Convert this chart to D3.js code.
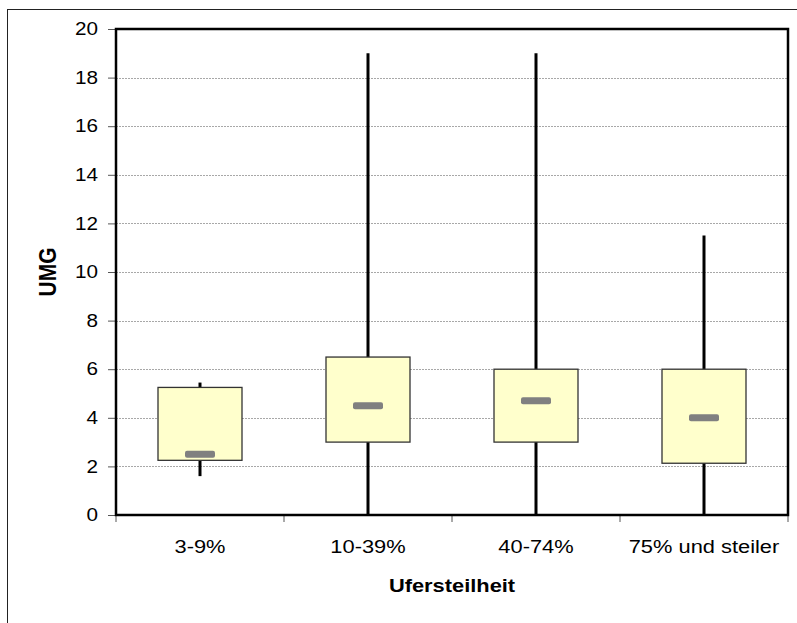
<!DOCTYPE html>
<html>
<head>
<meta charset="utf-8">
<script src="https://cdn.jsdelivr.net/npm/d3@7"></script>
<style>
  body { margin: 0; background: #fff; }
  text { font-family: Arial, "Liberation Sans", sans-serif; fill: #000; }
</style>
</head>
<body>
<div id="chart"></div>
<script>
// values
const categories = ["3-9%", "10-39%", "40-74%", "75% und steiler"];
const whiskerLow = [1.6, 0, 0, 0];
const q1 = [2.25, 3.0, 3.0, 2.13];
const medians = [2.5, 4.5, 4.7, 4.0];
const q3 = [5.25, 6.5, 6.0, 6.0];
const whiskerHigh = [5.45, 19, 19, 11.5];
const yTicks = [0, 2, 4, 6, 8, 10, 12, 14, 16, 18, 20];

const W = 797, H = 623;
const plot = { left: 116, top: 29, right: 788, bottom: 515 };
const stretch = 1.15; // the reference text is a bit wide

const svg = d3.select("#chart").append("svg")
    .attr("width", W)
    .attr("height", H);

// outer chart frame
svg.append("rect")
    .attr("x", 7.5).attr("y", 9.5)
    .attr("width", 800).attr("height", 630)
    .attr("fill", "#fff")
    .attr("stroke", "#222")
    .attr("stroke-width", 1);

const x = d3.scaleBand().domain(categories).range([plot.left, plot.right]).padding(0);
const y = d3.scaleLinear().domain([0, 20]).range([plot.bottom, plot.top]);

const data = categories.map((c, i) => ({
    cat: c, lo: whiskerLow[i], q1: q1[i], med: medians[i], q3: q3[i], hi: whiskerHigh[i]
}));

// gridlines
svg.append("g").selectAll("line")
    .data(yTicks.filter(t => t > 0 && t < 20))
    .join("line")
    .attr("x1", plot.left).attr("x2", plot.right)
    .attr("y1", d => Math.round(y(d)) + 0.5).attr("y2", d => Math.round(y(d)) + 0.5)
    .attr("stroke", "#a8a8a8")
    .attr("stroke-width", 1)
    .attr("stroke-dasharray", "2,1");

// y axis ticks + labels
const yAxis = svg.append("g")
    .attr("class", "y-axis")
    .attr("transform", `translate(${plot.left},0)`)
    .call(d3.axisLeft(y).tickValues(yTicks).tickSize(8).tickPadding(10).tickFormat(d3.format("d")));
yAxis.select(".domain").remove();
yAxis.selectAll(".tick line").attr("stroke", "#555");
yAxis.selectAll(".tick text")
    .attr("font-size", 18)
    .attr("font-family", "Arial, 'Liberation Sans', sans-serif")
    .attr("fill", "#000")
    .each(function () {
        const t = d3.select(this);
        const tx = +t.attr("x");
        t.attr("x", 0).attr("transform", `translate(${tx},0) scale(${stretch},1)`);
    });

// x axis ticks at band edges
const edges = categories.map(c => x(c)).concat([x(categories[categories.length - 1]) + x.bandwidth()]);
svg.append("g").selectAll("line")
    .data(edges)
    .join("line")
    .attr("x1", d => d).attr("x2", d => d)
    .attr("y1", plot.bottom).attr("y2", plot.bottom + 7)
    .attr("stroke", "#555");

// category labels
svg.append("g").selectAll("text")
    .data(categories)
    .join("text")
    .attr("transform", d => `translate(${x(d) + x.bandwidth() / 2},553) scale(${stretch},1)`)
    .attr("text-anchor", "middle")
    .attr("font-size", 19)
    .text(d => d);

// whiskers
svg.append("g").selectAll("line")
    .data(data)
    .join("line")
    .attr("x1", d => x(d.cat) + x.bandwidth() / 2)
    .attr("x2", d => x(d.cat) + x.bandwidth() / 2)
    .attr("y1", d => y(d.lo)).attr("y2", d => y(d.hi))
    .attr("stroke", "#000")
    .attr("stroke-width", 3);

// boxes
const boxW = x.bandwidth() * 0.5;
svg.append("g").selectAll("rect")
    .data(data)
    .join("rect")
    .attr("x", d => x(d.cat) + (x.bandwidth() - boxW) / 2)
    .attr("y", d => y(d.q3))
    .attr("width", boxW)
    .attr("height", d => y(d.q1) - y(d.q3))
    .attr("fill", "#ffffcc")
    .attr("stroke", "#333")
    .attr("stroke-width", 1.3);

// medians
svg.append("g").selectAll("rect")
    .data(data)
    .join("rect")
    .attr("x", d => x(d.cat) + x.bandwidth() / 2 - 15)
    .attr("y", d => y(d.med) - 3.5)
    .attr("width", 30)
    .attr("height", 7)
    .attr("rx", 2)
    .attr("fill", "#808080");

// plot frame
svg.append("rect")
    .attr("x", plot.left).attr("y", plot.top)
    .attr("width", plot.right - plot.left)
    .attr("height", plot.bottom - plot.top)
    .attr("fill", "none")
    .attr("stroke", "#000")
    .attr("stroke-width", 2.5);

// axis titles
svg.append("text")
    .attr("transform", `translate(${(plot.left + plot.right) / 2},592) scale(${stretch},1)`)
    .attr("text-anchor", "middle")
    .attr("font-size", 19)
    .attr("font-weight", "bold")
    .text("Ufersteilheit");

svg.append("text")
    .attr("transform", `translate(56,272) scale(${stretch},1) rotate(-90)`)
    .attr("text-anchor", "middle")
    .attr("font-size", 21)
    .attr("font-weight", "bold")
    .text("UMG");
</script>
</body>
</html>
